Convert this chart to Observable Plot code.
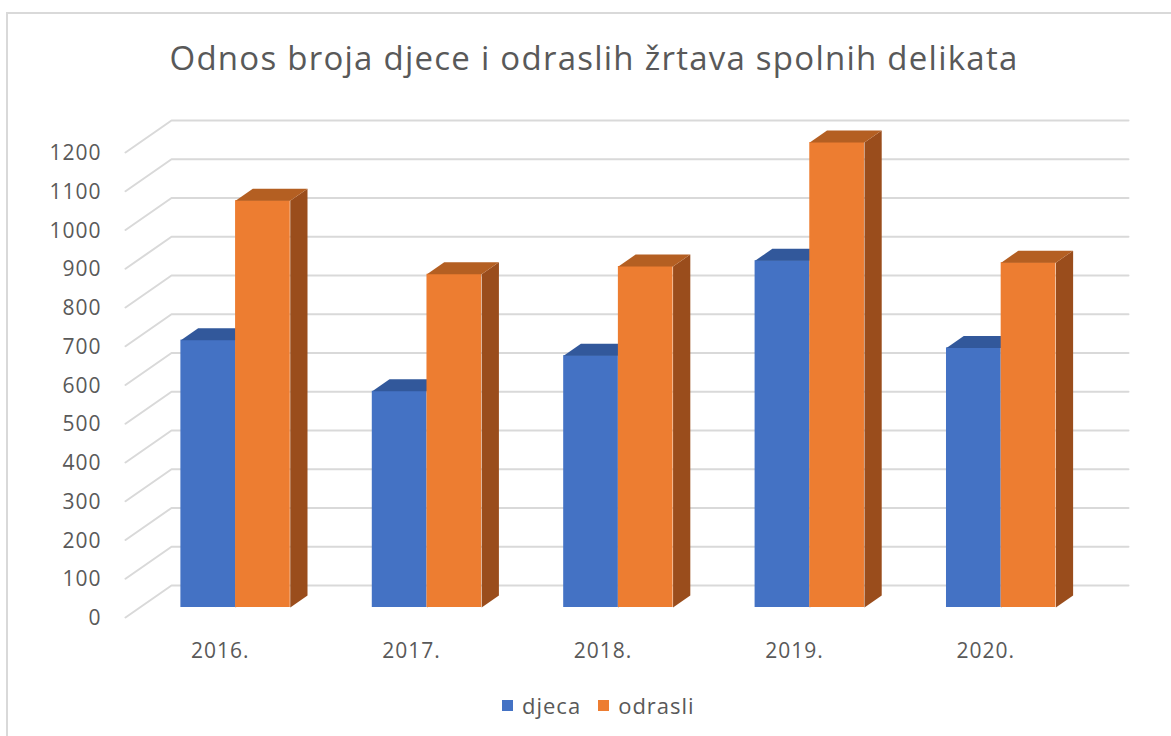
<!DOCTYPE html>
<html>
<head>
<meta charset="utf-8">
<script src="https://cdn.jsdelivr.net/npm/d3@7"></script>
<script src="https://cdn.jsdelivr.net/npm/@observablehq/plot@0.6"></script>
<style>
  html, body { margin: 0; padding: 0; background: #fff; overflow: hidden; width: 1171px; height: 736px; }
  #frame { position: absolute; left: 6px; top: 12px; width: 1300px; height: 900px; border: 2px solid #d9d9d9; box-sizing: border-box; }
  #chart { position: absolute; left: 0; top: 0; }
  #title { position: absolute; left: 594px; top: 41px; transform: translateX(-50%); white-space: nowrap;
           font-family: "Open Sans", sans-serif; font-size: 33px; letter-spacing: 1.25px; color: #595959; line-height: 1; }
  #legend { position: absolute; left: 502px; top: 694px; display: flex; align-items: center;
            font-family: "Open Sans", sans-serif; font-size: 22px; letter-spacing: 1px; color: #595959; line-height: 1; }
  .sw { display: inline-block; width: 11px; height: 11px; margin-right: 9px; }
  .item { display: flex; align-items: center; margin-right: 17px; }
</style>
</head>
<body>
<div id="frame"></div>
<div id="chart"></div>
<div id="title">Odnos broja djece i odraslih žrtava spolnih delikata</div>
<div id="legend"></div>
<script>
// ---- data ----
const years = ["2016.", "2017.", "2018.", "2019.", "2020."];
const djeca = [690, 558, 650, 895, 670];
const odrasli = [1050, 860, 880, 1200, 890];
const seriesNames = ["djeca", "odrasli"];
const yTicks = [0, 100, 200, 300, 400, 500, 600, 700, 800, 900, 1000, 1100, 1200];

// ---- style ----
const frontColors = ["#4472C4", "#ED7D31"];
const topColors = ["#32589B", "#B45F22"];
const sideColors = ["#2A4A86", "#9A4D1C"];
const textColor = "#595959";
const gridColor = "#d9d9d9";

// ---- geometry (pixels) ----
const xRange = [171, 1128];
const yRange = [585, 120];
const depthDX = -46, depthDY = 32;       // back wall -> front plane
const barFront = 0.6875, barBack = 0.3125; // bar depth position
const gapWidth = 1.5;                    // gap as fraction of bar width
const n = years.length;
const pxPerX = (xRange[1] - xRange[0]) / n;
const pxPerY = (yRange[0] - yRange[1]) / 1200;
// project (x in category units, value, depth 0=back..1=front) into data units
const P = (xu, v, d) => ({x: xu + d * depthDX / pxPerX, y: v - d * depthDY / pxPerY});
const w = 1 / (2 + gapWidth);

const bars = [];
years.forEach((yr, i) => {
  [djeca[i], odrasli[i]].forEach((v, s) => {
    const L = i + 0.5 - w + s * w, R = L + w;
    bars.push({i, s, v, L, R});
  });
});

const fronts = bars.map(b => {
  const a = P(b.L, 0, barFront), c = P(b.R, b.v, barFront);
  return {x1: a.x, x2: c.x, y1: a.y, y2: c.y, s: b.s};
});
const tops = [], sides = [];
bars.forEach((b, k) => {
  [P(b.L, b.v, barFront), P(b.R, b.v, barFront), P(b.R, b.v, barBack), P(b.L, b.v, barBack)]
    .forEach(p => tops.push({...p, id: k, s: b.s}));
  [P(b.R, 0, barFront), P(b.R, b.v, barFront), P(b.R, b.v, barBack), P(b.R, 0, barBack)]
    .forEach(p => sides.push({...p, id: k, s: b.s}));
});

const grid = [];
yTicks.forEach(v => {
  [P(0, v, 1), P(0, v, 0), P(n, v, 0)].forEach(p => grid.push({...p, v}));
});
const yLabels = yTicks.map(v => ({...P(0, v, 1), label: String(v)}));
const xLabels = years.map((yr, i) => ({...P(i + 0.5, 0, 1), label: yr}));

const marks = [
  Plot.line(grid, {x: "x", y: "y", z: "v", stroke: gridColor, strokeWidth: 2}),
  Plot.text(yLabels, {x: "x", y: "y", text: "label", textAnchor: "end", dx: -24, dy: 1,
    fill: textColor, fontSize: 21, fontFamily: "Open Sans"}),
  Plot.text(xLabels, {x: "x", y: "y", text: "label", dy: 34, dx: -1,
    fill: textColor, fontSize: 21, fontFamily: "Open Sans"})
];
// draw bars per bar, back-to-front: blue then orange in each group
bars.forEach((b, k) => {
  const s = b.s;
  marks.push(Plot.line(sides.filter(d => d.id === k), {x: "x", y: "y", fill: sideColors[s], stroke: "none", curve: "linear-closed"}));
  marks.push(Plot.rect([fronts[k]], {x1: "x1", x2: "x2", y1: "y1", y2: "y2", fill: frontColors[s]}));
  marks.push(Plot.line(tops.filter(d => d.id === k), {x: "x", y: "y", fill: topColors[s], stroke: "none", curve: "linear-closed"}));
});

const chart = Plot.plot({
  width: 1171,
  height: 736,
  margin: 0,
  style: {background: "transparent", overflow: "visible", letterSpacing: "1px"},
  x: {type: "linear", domain: [0, n], range: xRange, axis: null},
  y: {type: "linear", domain: [0, 1200], range: yRange, axis: null},
  marks
});
document.getElementById("chart").appendChild(chart);

const legend = document.getElementById("legend");
seriesNames.forEach((name, s) => {
  const item = document.createElement("div");
  item.className = "item";
  item.innerHTML = `<span class="sw" style="background:${frontColors[s]}"></span><span>${name}</span>`;
  legend.appendChild(item);
});
</script>
</body>
</html>
